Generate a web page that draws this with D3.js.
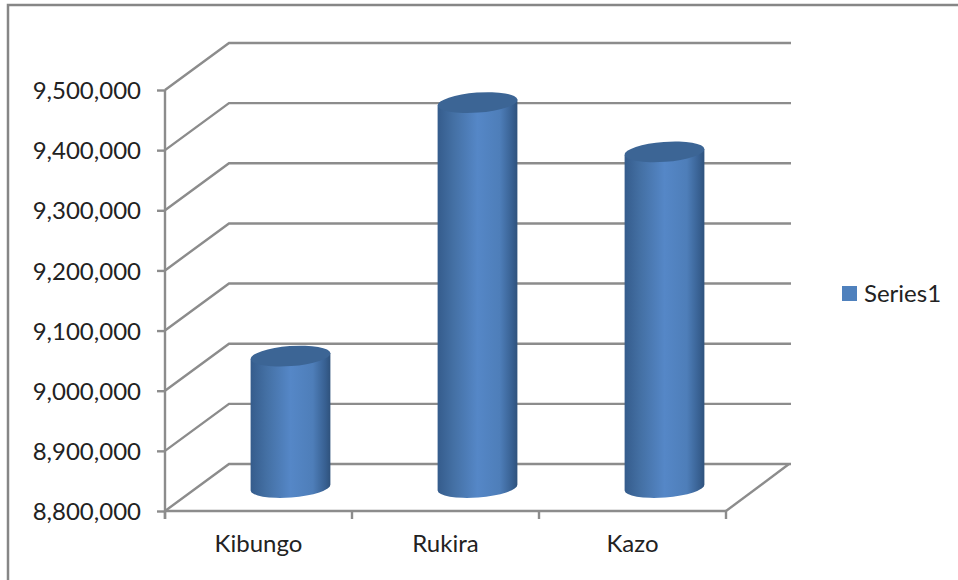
<!DOCTYPE html>
<html>
<head>
<meta charset="utf-8">
<script src="https://cdn.jsdelivr.net/npm/d3@7"></script>
<style>
  html, body { margin: 0; padding: 0; background: #fff; overflow: hidden; }
  text { font-family: Lato, "Open Sans", sans-serif; fill: #222; }
</style>
</head>
<body>
<svg id="chart" width="958" height="580"></svg>
<script>
// 数据
const categories = ['Kibungo', 'Rukira', 'Kazo'];
const seriesValues = [9018500, 9440000, 9358000];
const yTicks = [8800000, 8900000, 9000000, 9100000, 9200000, 9300000, 9400000, 9500000];
const seriesName = 'Series1';

const svg = d3.select('#chart');
const gridColor = '#8c8c8c';
const lineWidth = 2.4;
const fontSize = 24;

// 3D 墙面的偏移量
const depthX = 64, depthY = -47;
const capRx = 40, capRy = 10, capTilt = -4.3;

const x = d3.scaleBand().domain(categories).range([165, 726]);
const y = d3.scaleLinear().domain([8800000, 9500000]).range([511, 90]);

// 渐变
const grad = svg.append('defs').append('linearGradient')
    .attr('id', 'barFill').attr('x1', 0).attr('x2', 1).attr('y1', 0).attr('y2', 0);
[[0, '#355c8c'], [0.2, '#4470a4'], [0.5, '#5587c7'], [0.78, '#4e7eb9'], [0.94, '#375f90'], [1, '#2f527c']]
    .forEach(s => grad.append('stop').attr('offset', s[0]).attr('stop-color', s[1]));

// 外框
svg.append('path')
    .attr('d', 'M8,580V5H958')
    .attr('fill', 'none')
    .attr('stroke', '#868686')
    .attr('stroke-width', 2.5);

// 网格线
svg.append('g').selectAll('path')
    .data(yTicks)
    .enter().append('path')
    .attr('d', d => `M165,${y(d)}l${depthX},${depthY}H791`)
    .attr('fill', 'none')
    .attr('stroke', gridColor)
    .attr('stroke-width', lineWidth);

// 地板
svg.append('path')
    .attr('d', `M726,${y(8800000)}l${depthX - 1},${depthY}`)
    .attr('fill', 'none')
    .attr('stroke', gridColor)
    .attr('stroke-width', lineWidth);

// 柱体
const bar = svg.append('g').selectAll('g')
    .data(categories.map((c, i) => ({ name: c, value: seriesValues[i] })))
    .enter().append('g')
    .attr('transform', d => `translate(${x(d.name) + x.bandwidth() / 2 + depthX / 2},${depthY / 2})`);

const dx = capRx * Math.cos(capTilt * Math.PI / 180);
const dy = capRx * Math.sin(capTilt * Math.PI / 180);

bar.append('path')
    .attr('d', d => {
        const top = y(d.value), base = y(8800000);
        return `M${-dx},${top - dy}L${dx},${top + dy}L${dx},${base + dy}` +
            `A${capRx},${capRy},${capTilt},0,1,${-dx},${base - dy}Z`;
    })
    .attr('fill', 'url(#barFill)');

bar.append('ellipse')
    .attr('rx', capRx)
    .attr('ry', capRy)
    .attr('transform', d => `translate(0,${y(d.value)}) rotate(${capTilt})`)
    .attr('fill', '#3c6595');

// Y 轴
const yAxis = svg.append('g')
    .attr('transform', 'translate(165,0)')
    .call(d3.axisLeft(y).tickValues(yTicks).tickSize(8).tickPadding(16).tickFormat(d3.format(',')));
yAxis.selectAll('path').attr('stroke', gridColor).attr('stroke-width', lineWidth).attr('d', `M0,${y(9500000)}V${y(8800000) + 8}`);
yAxis.selectAll('line').attr('stroke', gridColor).attr('stroke-width', lineWidth);
yAxis.selectAll('text').attr('font-size', fontSize).attr('dy', '0.36em').style('font-family', 'Lato');

// X 轴
const xAxis = svg.append('g')
    .attr('transform', `translate(0,${y(8800000)})`)
    .call(d3.axisBottom(x).tickSize(0).tickPadding(24));
xAxis.selectAll('path').attr('stroke', gridColor).attr('stroke-width', lineWidth).attr('d', 'M165,0H726');
xAxis.selectAll('text').attr('font-size', fontSize).attr('dy', '0.71em').style('font-family', 'Lato');

// X 轴刻度在分类的边界上
svg.append('g').selectAll('line')
    .data(categories.concat(['end']))
    .enter().append('line')
    .attr('x1', (d, i) => i < categories.length ? x(d) : x.range()[1])
    .attr('x2', (d, i) => i < categories.length ? x(d) : x.range()[1])
    .attr('y1', y(8800000))
    .attr('y2', y(8800000) + 8)
    .attr('stroke', gridColor)
    .attr('stroke-width', lineWidth);

// 图例
const legend = svg.append('g').attr('transform', 'translate(842,286)');
legend.append('rect').attr('width', 15).attr('height', 15).attr('fill', '#4f81bd');
legend.append('text').attr('x', 22).attr('y', 16).attr('font-size', fontSize).text(seriesName);
</script>
</body>
</html>
